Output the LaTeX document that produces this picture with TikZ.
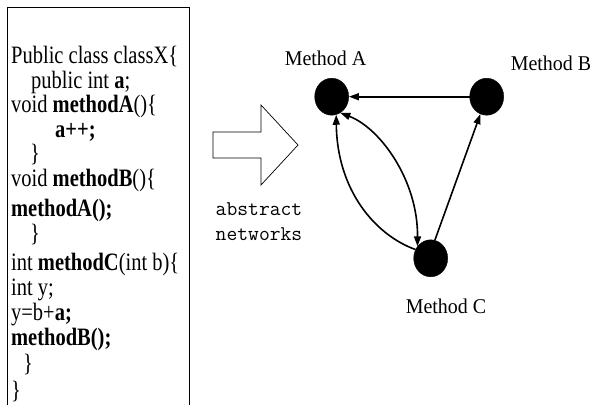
\documentclass[tikz,border=0pt]{standalone}
\usepackage{fontspec}
\setmainfont{Liberation Serif}
\usetikzlibrary{arrows.meta,shapes.geometric}
\tikzset{
  codeline/.style={anchor=base west, inner sep=0pt, font=\fontsize{25}{25}\selectfont, xscale=0.82, transform shape},
  methodnode/.style={ellipse, fill=black, draw=black, minimum width=34pt, minimum height=37pt, inner sep=0pt},
  methodlabel/.style={inner sep=0pt, anchor=base, font=\fontsize{21}{21}\selectfont, xscale=0.95, transform shape},
  edge/.style={line width=1.6pt, -{Triangle[length=10pt,width=7pt]}},
  bedge/.style={line width=1.6pt, {Triangle[length=10pt,width=7pt]}-{Triangle[length=10pt,width=7pt]}},
  absnote/.style={inner sep=0pt, anchor=base, font=\ttfamily\fontsize{21}{21}\selectfont},
  bigarrow/.style={draw=black, line width=0.7pt, fill=white}
}
\begin{document}
\begin{tikzpicture}[x=1pt,y=-1pt]
\useasboundingbox (0,0) rectangle (592,405);
% code box
\draw[line width=1pt] (7,405) -- (7,7) -- (189,7) -- (189,405);
\node[codeline] (l1) at (11,63) {Public class classX\{};
\node[codeline] (l2) at (31,88) {public int \textbf{a};};
\node[codeline] (l3) at (11,112) {void \textbf{methodA}()\{};
\node[codeline] (l4) at (55,137) {\textbf{a++;}};
\node[codeline] (l5) at (30,161) {\}};
\node[codeline] (l6) at (11,186) {void \textbf{methodB}()\{};
\node[codeline] (l7) at (11,216) {\textbf{methodA();}};
\node[codeline] (l8) at (30,241) {\}};
\node[codeline] (l9) at (11,270) {int \textbf{methodC}(int b)\{};
\node[codeline] (l10) at (11,295) {int y;};
\node[codeline] (l11) at (11,320) {y=b+\textbf{a;}};
\node[codeline] (l12) at (11,345) {\textbf{methodB();}};
\node[codeline] (l13) at (23,371) {\}};
\node[codeline] (l14) at (11,398) {\}};
% block arrow
\draw[bigarrow] (213,132) -- (261,132) -- (261,105) -- (298,145) -- (261,185) -- (261,158) -- (213,158) -- cycle;
\node[absnote] (abs1) at (259,215) {abstract};
\node[absnote] (abs2) at (259,240) {networks};
% network
\node[methodnode] (A) at (331.7,96.7) {};
\node[methodnode] (B) at (486.7,96.7) {};
\node[methodnode] (C) at (430.7,258.3) {};
\node[methodlabel] (LA) at (325.5,65) {Method A};
\node[methodlabel] (LB) at (551,70) {Method B};
\node[methodlabel] (LC) at (446,313) {Method C};
\draw[edge] (B.west) -- (A.east);
\draw[edge] (C.77) -- (B.-110);
\draw[edge] (C.150) .. controls (375,235) and (337,190) .. (A.-76);
\draw[bedge] (A.-62) .. controls (380,128) and (418,180) .. (C.138);
\end{tikzpicture}
\end{document}
